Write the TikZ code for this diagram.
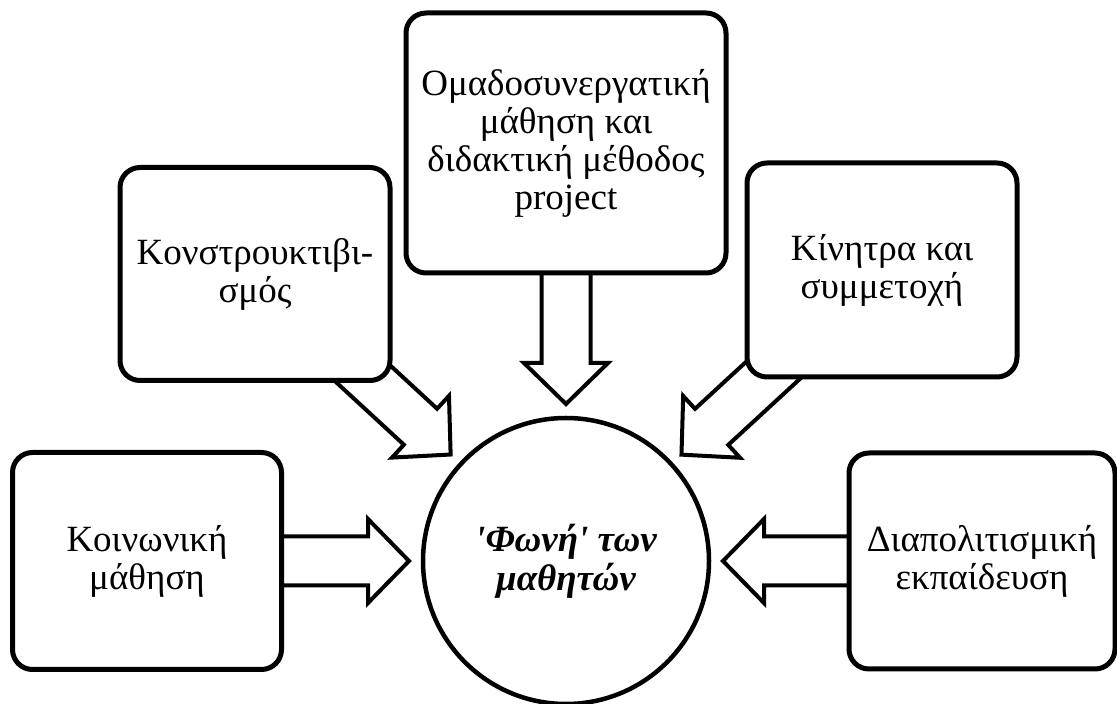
\documentclass[tikz,border=0pt]{standalone}
\usepackage{fontspec}
\newfontfamily\grfont{Liberation Serif}
\usetikzlibrary{calc,backgrounds}

\tikzset{
  topic/.style={draw, line width=5pt, rounded corners=20pt, fill=white, align=center,
    inner sep=0pt, font=\grfont\fontsize{37}{38}\selectfont},
  voice/.style={draw, circle, line width=4.5pt, minimum size=286pt, fill=white, align=center,
    inner sep=0pt, font=\grfont\bfseries\itshape\fontsize{37}{39}\selectfont},
  blockarrow/.style={draw, line width=4pt, fill=white}
}

\begin{document}
\begin{tikzpicture}[x=1pt,y=1pt]
    \useasboundingbox (0,0) rectangle (1117,704);

    % Centre
    \node[voice] (C) at (566,143) {'Φωνή' των\\μαθητών};

    % Boxes round it
    \node[topic, minimum width=320pt, minimum height=260pt] (T) at (566,561)
        {Ομαδοσυνεργατική\\μάθηση και\\διδακτική μέθοδος\\project};
    \node[topic, minimum width=270pt, minimum height=213pt] (K) at (255,430)
        {Κονστρουκτιβι-\\σμός};
    \node[topic, minimum width=270pt, minimum height=214pt] (M) at (882,434)
        {Κίνητρα και\\συμμετοχή};
    \node[topic, minimum width=269pt, minimum height=217pt] (L) at (147,143)
        {Κοινωνική\\μάθηση};
    \node[topic, minimum width=266pt, minimum height=216pt] (R) at (982,143)
        {Διαπολιτισμική\\εκπαίδευση};

    % Arrows into the centre
    \begin{scope}[on background layer]
    \foreach \src in {L,K,T,M,R}{
        \coordinate (tip) at ($(C)!157pt!(\src)$);
        \coordinate (base) at ($(tip)!41pt!(\src)$);
        \draw[blockarrow] ($(\src)!24.5pt!90:(tip)$) -- ($(base)!24.5pt!-90:(\src)$)
            -- ($(base)!42pt!-90:(\src)$) -- (tip) -- ($(base)!42pt!90:(\src)$)
            -- ($(base)!24.5pt!90:(\src)$) -- ($(\src)!24.5pt!-90:(tip)$) -- cycle;
    }
    \end{scope}
\end{tikzpicture}
\end{document}
